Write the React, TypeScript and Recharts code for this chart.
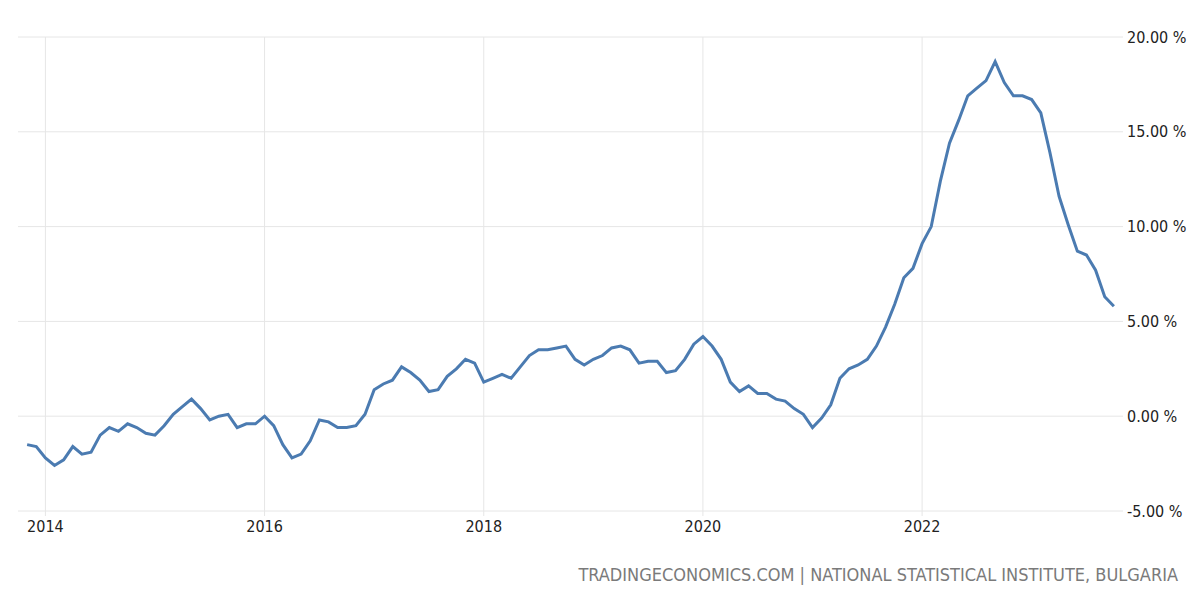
import React from 'react';
import { LineChart, Line, XAxis, YAxis, CartesianGrid, ReferenceLine } from 'recharts';

// Monthly inflation rate, Bulgaria, from Nov 2013 to Oct 2023
const startYear = 2013;
const startMonth = 11;

const values2013 = [-1.5, -1.6];
const values2014 = [-2.2, -2.6, -2.3, -1.6, -2.0, -1.9, -1.0, -0.6, -0.8, -0.4, -0.6, -0.9];
const values2015 = [-1.0, -0.5, 0.1, 0.5, 0.9, 0.4, -0.2, 0.0, 0.1, -0.6, -0.4, -0.4];
const values2016 = [0.0, -0.5, -1.5, -2.2, -2.0, -1.3, -0.2, -0.3, -0.6, -0.6, -0.5, 0.1];
const values2017 = [1.4, 1.7, 1.9, 2.6, 2.3, 1.9, 1.3, 1.4, 2.1, 2.5, 3.0, 2.8];
const values2018 = [1.8, 2.0, 2.2, 2.0, 2.6, 3.2, 3.5, 3.5, 3.6, 3.7, 3.0, 2.7];
const values2019 = [3.0, 3.2, 3.6, 3.7, 3.5, 2.8, 2.9, 2.9, 2.3, 2.4, 3.0, 3.8];
const values2020 = [4.2, 3.7, 3.0, 1.8, 1.3, 1.6, 1.2, 1.2, 0.9, 0.8, 0.4, 0.1];
const values2021 = [-0.6, -0.1, 0.6, 2.0, 2.5, 2.7, 3.0, 3.7, 4.7, 5.9, 7.3, 7.8];
const values2022 = [9.1, 10.0, 12.4, 14.4, 15.6, 16.9, 17.3, 17.7, 18.7, 17.6, 16.9, 16.9];
const values2023 = [16.7, 16.0, 13.9, 11.6, 10.1, 8.7, 8.5, 7.7, 6.3, 5.8];

const allValues = [
  ...values2013, ...values2014, ...values2015, ...values2016, ...values2017, ...values2018,
  ...values2019, ...values2020, ...values2021, ...values2022, ...values2023,
];

const xTicks = [2014, 2016, 2018, 2020, 2022];
const yTicks = [-5, 0, 5, 10, 15, 20];
const sourceText = 'TRADINGECONOMICS.COM | NATIONAL STATISTICAL INSTITUTE, BULGARIA';

const data = allValues.map((v, i) => {
  const m = startMonth - 1 + i;
  const year = startYear + Math.floor(m / 12);
  const month = (m % 12) + 1;
  return { t: year + (month - 1) / 12, value: v };
});

const FONT = '"DejaVu Sans Condensed", "DejaVu Sans", sans-serif';
const GRID = '#e6e6e6';

export default function App() {
  return (
    <div style={{ position: 'absolute', left: 0, top: 0, width: 1200, height: 600, background: '#fff' }}>
      <LineChart width={1200} height={600} data={data} margin={{ top: 37, right: 0, left: 18, bottom: 0 }}>
        <CartesianGrid stroke={GRID} strokeWidth={1} vertical={false} />
        <XAxis
          dataKey="t"
          type="number"
          domain={[2013.75, 2023.8333]}
          ticks={xTicks}
          tickFormatter={(v: number) => String(Math.round(v))}
          height={89}
          axisLine={false}
          tickLine={{ stroke: GRID }}
          tickSize={5}
          tickMargin={5}
          tick={{ fill: '#222', fontSize: 16, fontFamily: FONT }}
          allowDataOverflow
        />
        <YAxis
          orientation="right"
          type="number"
          domain={[-5, 20]}
          ticks={yTicks}
          tickFormatter={(v: number) => v.toFixed(2) + ' %'}
          width={77}
          axisLine={false}
          tickLine={false}
          tickSize={0}
          tickMargin={4}
          tick={{ fill: '#222', fontSize: 16, fontFamily: FONT, textAnchor: 'start' }}
        />
        {xTicks.map((t) => (
          <ReferenceLine key={t} x={t} stroke={GRID} strokeWidth={1} />
        ))}
        <Line
          type="linear"
          dataKey="value"
          stroke="#4b7bb1"
          strokeWidth={3}
          dot={false}
          isAnimationActive={false}
        />
      </LineChart>
      <div
        style={{
          position: 'absolute',
          right: 22,
          top: 564,
          fontFamily: FONT,
          fontSize: 18,
          color: '#7a7a7a',
          whiteSpace: 'nowrap',
        }}
      >
        {sourceText}
      </div>
    </div>
  );
}
